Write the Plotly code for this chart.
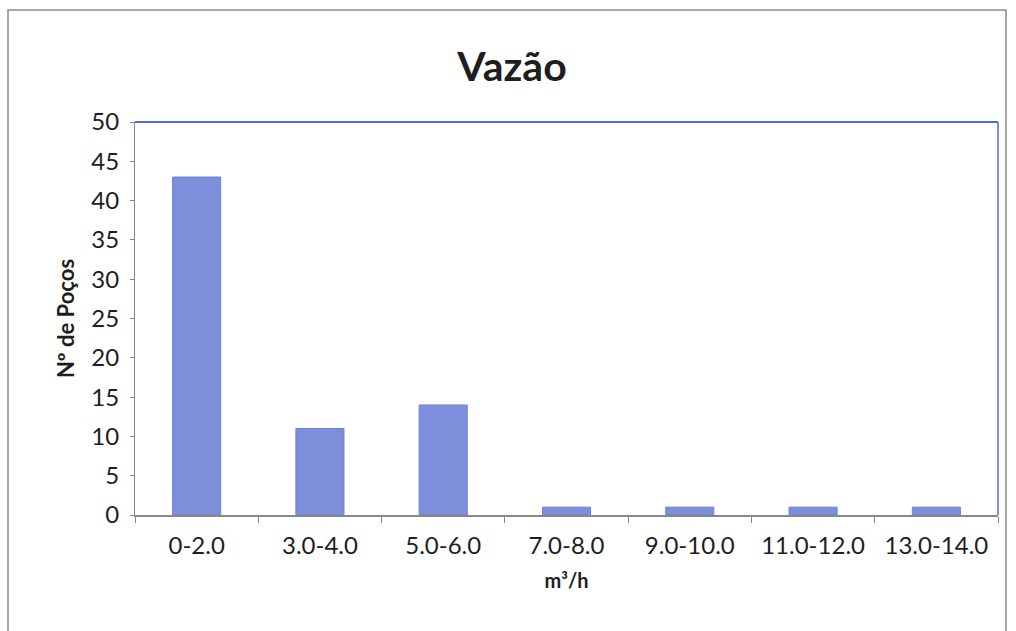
import plotly.graph_objects as go

# Flow-rate classes (m³/h) and number of wells in each class
categories = ["0-2.0", "3.0-4.0", "5.0-6.0", "7.0-8.0", "9.0-10.0", "11.0-12.0", "13.0-14.0"]
wells = [43, 11, 14, 1, 1, 1, 1]
y_ticks = [0, 5, 10, 15, 20, 25, 30, 35, 40, 45, 50]

W, H = 1016, 631
ML, MR, MT, MB = 135, 18, 122, 116
pw, ph = W - ML - MR, H - MT - MB

def px_x(p):
    return (p - ML) / pw

def px_y(p):
    return (H - MB - p) / ph

font = "Lato, Open Sans, DejaVu Sans, sans-serif"
ink = "#1e1e1e"

fig = go.Figure(
    go.Bar(
        x=categories,
        y=wells,
        width=0.39,
        marker=dict(color="#7d8edb", line=dict(color="#6f80d0", width=1)),
    )
)

fig.update_layout(
    width=W,
    height=H,
    margin=dict(l=ML, r=MR, t=MT, b=MB),
    paper_bgcolor="white",
    plot_bgcolor="white",
    showlegend=False,
    title=dict(
        text="<b>Vazão</b>",
        xref="container",
        x=512 / W,
        xanchor="center",
        yref="container",
        y=1 - 67 / H,
        yanchor="middle",
        font=dict(family=font, size=41, color=ink),
    ),
    xaxis=dict(
        title=dict(text="<b>m³/h</b>", font=dict(family=font, size=20, color=ink), standoff=16),
        tickfont=dict(family=font, size=24, color=ink),
        ticklabelstandoff=8,
        showline=True,
        linecolor="#888888",
        linewidth=1.5,
        ticks="outside",
        tickson="boundaries",
        ticklen=6,
        tickcolor="#888888",
        showgrid=False,
    ),
    yaxis=dict(
        title=dict(text="<b>Nº de Poços</b>", font=dict(family=font, size=22, color=ink), standoff=10),
        tickvals=y_ticks,
        range=[0, 50],
        tickfont=dict(family=font, size=24, color=ink),
        ticklabelstandoff=6,
        showline=True,
        linecolor="#888888",
        linewidth=1,
        ticks="outside",
        ticklen=4,
        tickcolor="#888888",
        showgrid=False,
        zeroline=False,
    ),
    shapes=[
        # blue frame on the top and right of the plot area
        dict(type="line", xref="paper", yref="paper", x0=0, x1=1, y0=1, y1=1,
             line=dict(color="#4a6fd0", width=2)),
        dict(type="line", xref="paper", yref="paper", x0=1, x1=1, y0=0, y1=1,
             line=dict(color="#4a6fd0", width=1.5)),
        # outer chart border
        dict(type="rect", xref="paper", yref="paper",
             x0=px_x(8), x1=px_x(1006), y0=px_y(640), y1=px_y(10),
             line=dict(color="#8a8a8a", width=1.5), layer="below"),
    ],
)

fig.write_html("out.html")
